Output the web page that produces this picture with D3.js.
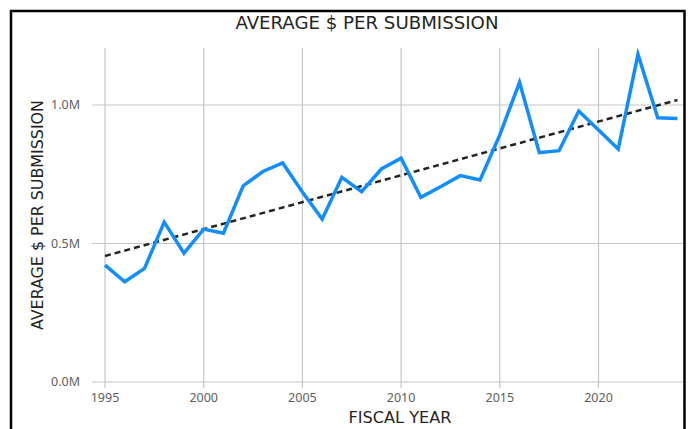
<!DOCTYPE html>
<html>
<head>
<meta charset="utf-8">
<script src="https://cdn.jsdelivr.net/npm/d3@7"></script>
<style>
  body { margin: 0; background: #fff; }
  svg { display: block; }
</style>
</head>
<body>
<div id="chart"></div>
<script>
// Chart values (millions of dollars)
var years = [1995, 1996, 1997, 1998, 1999, 2000, 2001, 2002, 2003, 2004,
             2005, 2006, 2007, 2008, 2009, 2010, 2011, 2012, 2013, 2014,
             2015, 2016, 2017, 2018, 2019, 2020, 2021, 2022, 2023, 2024];
var avgPerSubmission = [0.422, 0.362, 0.410, 0.577, 0.465, 0.552, 0.537, 0.708, 0.760, 0.791,
                        0.686, 0.588, 0.739, 0.687, 0.769, 0.808, 0.667, 0.705, 0.745, 0.729,
                        0.892, 1.082, 0.828, 0.835, 0.978, 0.910, 0.841, 1.183, 0.954, 0.951];
// trend line end points
var trendYears = [1995, 2024];
var trendValues = [0.455, 1.018];

var xTicks = [1995, 2000, 2005, 2010, 2015, 2020, 2025];
var yTicks = [0, 0.5, 1.0];

var width = 693;
var height = 429;

var svg = d3.select("#chart").append("svg")
    .attr("width", width).attr("height", height);

// everything right of the frame is cut off
svg.append("clipPath").attr("id", "frameClip")
  .append("rect").attr("x", 0).attr("y", 0).attr("width", 684).attr("height", height);

var g = svg.append("g").attr("clip-path", "url(#frameClip)");

var x = d3.scaleLinear().domain([1995, 2020]).range([105, 598.5]);
var y = d3.scaleLinear().domain([0, 1]).range([382, 105]);

var plotTop = 48, plotBottom = 388, plotLeft = 92;

// vertical gridlines
g.append("g").selectAll("line")
  .data(xTicks)
  .enter().append("line")
    .attr("x1", function(d) { return x(d); })
    .attr("x2", function(d) { return x(d); })
    .attr("y1", plotTop)
    .attr("y2", plotBottom)
    .attr("stroke", "#c6c6c6")
    .attr("stroke-width", 1.2);

// horizontal gridlines
g.append("g").selectAll("line")
  .data(yTicks)
  .enter().append("line")
    .attr("x1", plotLeft)
    .attr("x2", width)
    .attr("y1", function(d) { return y(d); })
    .attr("y2", function(d) { return y(d); })
    .attr("stroke", "#c6c6c6")
    .attr("stroke-width", 1.2);

// y tick labels
g.append("g").selectAll("text")
  .data(yTicks)
  .enter().append("text")
    .attr("x", 80)
    .attr("y", function(d) { return y(d); })
    .attr("dy", "0.35em")
    .attr("text-anchor", "end")
    .attr("font-family", "'Segoe UI', 'Noto Sans', sans-serif")
    .attr("font-size", 12.5)
    .attr("fill", "#605e5c")
    .text(function(d) { return d3.format(".1f")(d) + "M"; });

// x tick labels
g.append("g").selectAll("text")
  .data(xTicks)
  .enter().append("text")
    .attr("x", function(d) { return x(d); })
    .attr("y", 402)
    .attr("text-anchor", "middle")
    .attr("font-family", "'Segoe UI', 'Noto Sans', sans-serif")
    .attr("font-size", 12.5)
    .attr("fill", "#605e5c")
    .text(function(d) { return d; });

// trend line (dashed)
var trendLine = d3.line()
    .x(function(d, i) { return x(trendYears[i]); })
    .y(function(d) { return y(d); });

g.append("path")
    .datum(trendValues)
    .attr("d", trendLine)
    .attr("fill", "none")
    .attr("stroke", "#252423")
    .attr("stroke-width", 2.5)
    .attr("stroke-dasharray", "6,4");

// main series
var line = d3.line()
    .x(function(d, i) { return x(years[i]); })
    .y(function(d) { return y(d); });

g.append("path")
    .datum(avgPerSubmission)
    .attr("d", line)
    .attr("fill", "none")
    .attr("stroke", "#118dff")
    .attr("stroke-width", 3.5)
    .attr("stroke-linejoin", "miter");

// titles
svg.append("text")
    .attr("x", 367)
    .attr("y", 29)
    .attr("text-anchor", "middle")
    .attr("font-family", "'DejaVu Sans Condensed', 'DejaVu Sans', sans-serif")
    .attr("font-size", 17)
    .attr("fill", "#252423")
    .attr("textLength", 263)
    .attr("lengthAdjust", "spacingAndGlyphs")
    .text("AVERAGE $ PER SUBMISSION");

svg.append("text")
    .attr("transform", "translate(43,215) rotate(-90)")
    .attr("text-anchor", "middle")
    .attr("font-family", "'DejaVu Sans Condensed', 'DejaVu Sans', sans-serif")
    .attr("font-size", 15)
    .attr("fill", "#252423")
    .attr("textLength", 230)
    .attr("lengthAdjust", "spacingAndGlyphs")
    .text("AVERAGE $ PER SUBMISSION");

svg.append("text")
    .attr("x", 400)
    .attr("y", 423)
    .attr("text-anchor", "middle")
    .attr("font-family", "'DejaVu Sans Condensed', 'DejaVu Sans', sans-serif")
    .attr("font-size", 16)
    .attr("fill", "#252423")
    .attr("textLength", 103)
    .attr("lengthAdjust", "spacingAndGlyphs")
    .text("FISCAL YEAR");

// black frame round the visual (bottom is cut off)
svg.append("path")
    .attr("d", "M11," + height + "V11H684.5V" + height)
    .attr("fill", "none")
    .attr("stroke", "#000")
    .attr("stroke-width", 2.5);
</script>
</body>
</html>
